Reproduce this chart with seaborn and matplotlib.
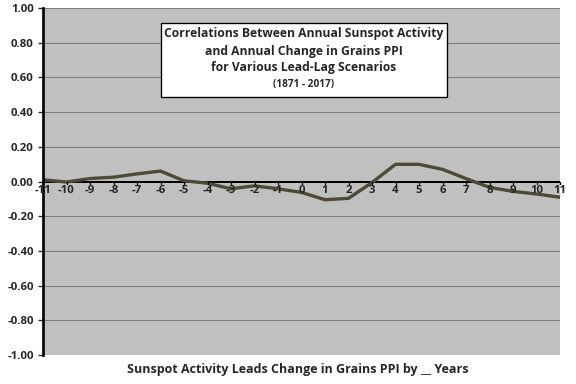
import matplotlib
matplotlib.use("Agg")
import matplotlib.pyplot as plt
import seaborn as sns
import pandas as pd
from matplotlib.patches import Rectangle

lags = list(range(-11, 12))
corr = [0.010, -0.003, 0.017, 0.025, 0.044, 0.060, 0.004, -0.010, -0.042, -0.025,
        -0.042, -0.063, -0.105, -0.097, -0.006, 0.099, 0.099, 0.070, 0.017, -0.034,
        -0.057, -0.072, -0.091]
yticks = [-1.0, -0.8, -0.6, -0.4, -0.2, 0.0, 0.2, 0.4, 0.6, 0.8, 1.0]
title_lines = ["Correlations Between Annual Sunspot Activity",
               "and Annual Change in Grains PPI",
               "for Various Lead-Lag Scenarios"]
subtitle = "(1871 - 2017)"
xlabel = "Sunspot Activity Leads Change in Grains PPI by __ Years"

sns.set_style("white")
plt.rcParams['font.family'] = ['Open Sans', 'DejaVu Sans']

df = pd.DataFrame({"lag": lags, "corr": corr})
fig = plt.figure(figsize=(6, 4), dpi=96)
ax = fig.add_axes([43/576, 1-355/384, (560-43)/576, (355-8)/384])
ax.set_facecolor("#c0c0c0")
sns.lineplot(data=df, x="lag", y="corr", ax=ax, color="#4d4a36", linewidth=2.5)
ax.set_xlim(-11, 11)
ax.set_ylim(-1, 1)
ax.set_yticks(yticks)
ax.set_yticklabels([f"{v:.2f}" for v in yticks], fontsize=8.5, fontweight='bold')
for v in yticks:
    if v not in (0.0,):
        ax.axhline(v, color="#7f7f7f", linewidth=0.8, zorder=0)
ax.axhline(0, color="black", linewidth=1.5, zorder=1)
ax.set_xticks(lags)
ax.set_xticklabels([])
for l in lags:
    ax.plot([l, l], [0, -0.012], color="black", linewidth=1, clip_on=False)
    ax.text(l, -0.02, str(l), ha="center", va="top", fontsize=8.5, fontweight='bold')
ax.tick_params(axis='x', length=0)
ax.tick_params(axis='y', length=4, width=1, direction='out', left=True, pad=3)
for s in ["top", "right", "bottom"]:
    ax.spines[s].set_visible(False)
ax.spines["left"].set_linewidth(2)
ax.spines["left"].set_color("black")
ax.set_xlabel("")
ax.set_ylabel("")
fig.text(298/576, 1-370/384, xlabel, ha="center", va="center", fontsize=9.4, fontweight='bold')

rect = Rectangle((161/576, 1-97/384), (447-161)/576, (97-23)/384, transform=fig.transFigure,
                 facecolor="white", edgecolor="black", linewidth=1, zorder=5)
fig.patches.append(rect)
ys = [34, 51, 68]
for t, y in zip(title_lines, ys):
    fig.text(304/576, 1-y/384, t, ha="center", va="center", fontsize=9.1, fontweight='bold', zorder=6)
fig.text(304/576, 1-85/384, subtitle, ha="center", va="center", fontsize=7.5, fontweight='bold', zorder=6)

fig.savefig("out.png", dpi=96, facecolor="white")
